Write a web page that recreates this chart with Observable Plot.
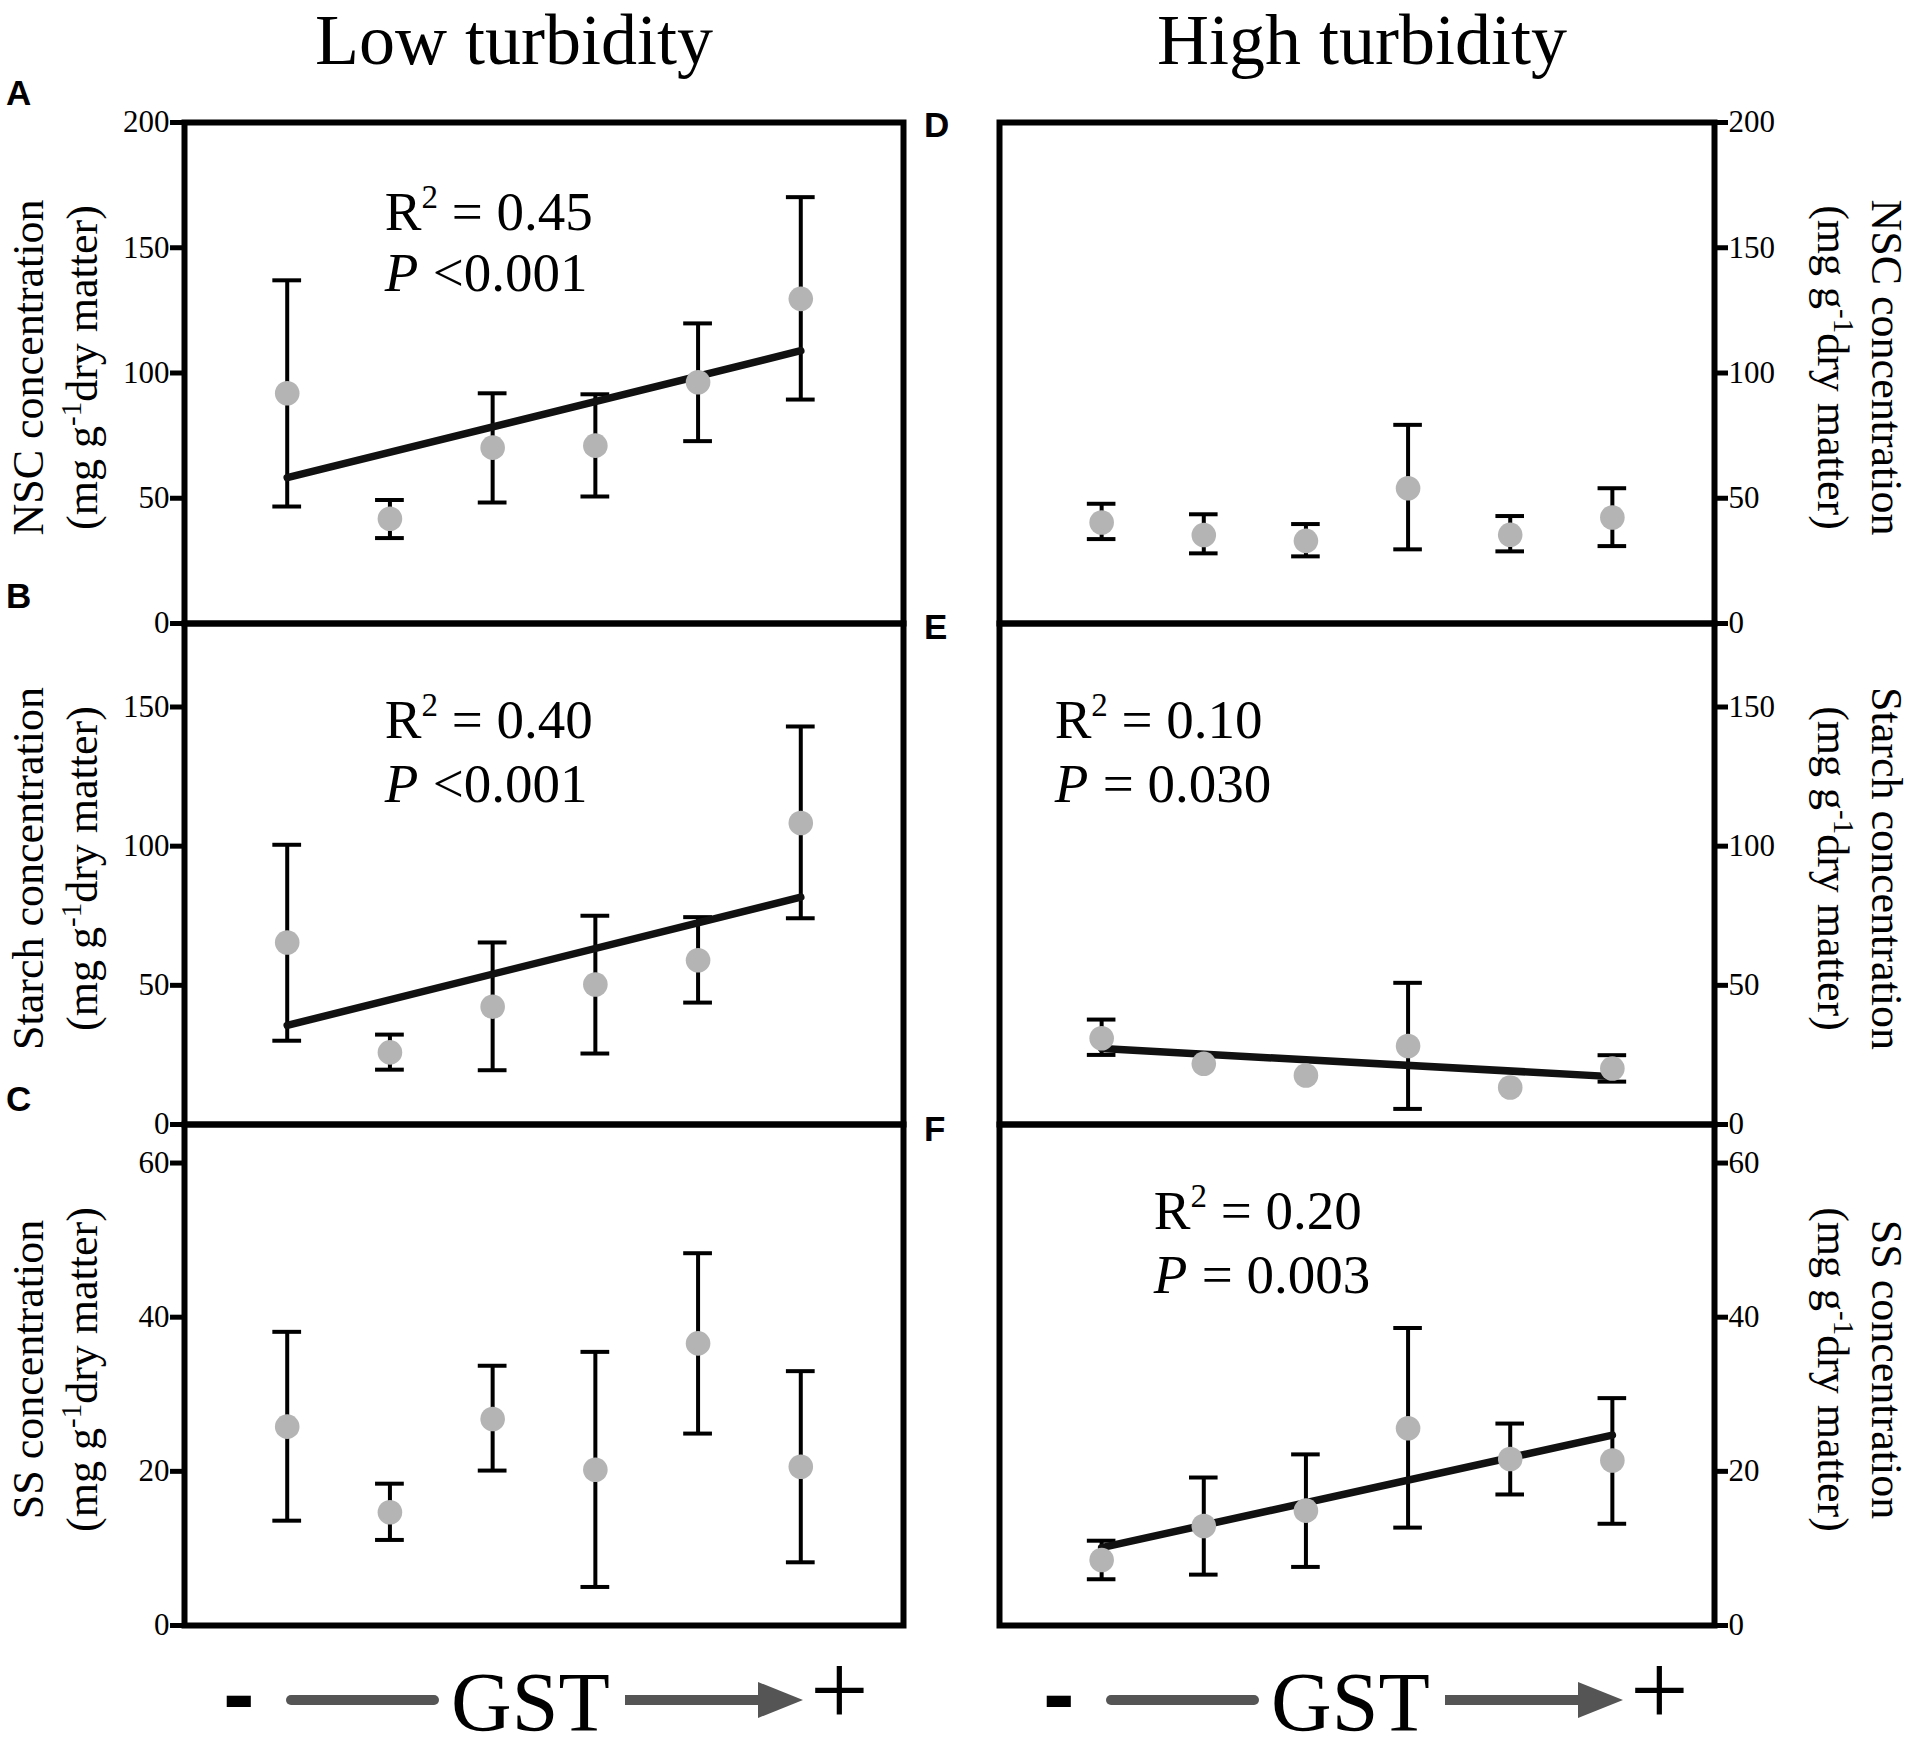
<!DOCTYPE html>
<html>
<head>
<meta charset="utf-8">
<script src="https://cdn.jsdelivr.net/npm/d3@7"></script>
<script src="https://cdn.jsdelivr.net/npm/@observablehq/plot@0.6"></script>
<style>
  body { margin: 0; background: #fff; }
  #fig { position: relative; width: 1926px; height: 1750px; background: #fff; overflow: hidden; }
  #fig > svg { position: absolute; }
</style>
</head>
<body>
<div id="fig"></div>
<script>
// ---------------- data ----------------
const gstLevels = [1, 2, 3, 4, 5, 6];

// Low turbidity
const nscLowMean   = [91.9, 41.8, 70.2, 71.0, 96.3, 129.6];
const nscLowUpper  = [137.0, 49.3, 91.9, 91.5, 119.8, 170.2];
const nscLowLower  = [46.7, 34.1, 48.3, 50.7, 72.8, 89.4];
const nscLowFit    = [58.2, 108.9];

const starchLowMean  = [65.4, 25.9, 42.3, 50.3, 59.0, 108.3];
const starchLowUpper = [100.5, 32.3, 65.4, 75.0, 74.5, 143.0];
const starchLowLower = [30.1, 19.7, 19.5, 25.5, 43.8, 74.1];
const starchLowFit   = [35.6, 81.7];

const ssLowMean  = [25.8, 14.7, 26.8, 20.2, 36.6, 20.6];
const ssLowUpper = [38.1, 18.4, 33.7, 35.5, 48.3, 33.0];
const ssLowLower = [13.6, 11.1, 20.1, 5.0, 24.9, 8.2];

// High turbidity
const nscHighMean  = [40.3, 35.3, 33.0, 54.0, 35.4, 42.3];
const nscHighUpper = [47.8, 43.6, 39.7, 79.3, 42.9, 54.0];
const nscHighLower = [33.7, 28.0, 26.8, 29.6, 28.8, 30.9];

const starchHighMean  = [31.0, 21.8, 17.6, 28.2, 13.3, 20.1];
const starchHighUpper = [37.7, null, null, 50.9, null, 24.9];
const starchHighLower = [25.0, null, null, 5.6, null, 15.4];
const starchHighFit   = [27.3, 17.2];

const ssHighMean  = [8.5, 12.9, 14.9, 25.6, 21.6, 21.4];
const ssHighUpper = [11.0, 19.2, 22.2, 38.6, 26.2, 29.5];
const ssHighLower = [6.0, 6.6, 7.6, 12.7, 17.0, 13.2];
const ssHighFit   = [10.1, 24.7];

// axes
const nscTicks = [0, 50, 100, 150, 200];
const starchTicks = [0, 50, 100, 150];
const ssTicks = [0, 20, 40, 60];
const nscDomain = [0, 200];
const starchDomain = [0, 180];
const ssDomain = [0, 65];

// labels
const columnTitles = ["Low turbidity", "High turbidity"];
const panelLetters = [["A", "B", "C"], ["D", "E", "F"]];
const yTitles = ["NSC concentration", "Starch concentration", "SS concentration"];
const r2Labels = { A: "0.45", B: "0.40", E: "0.10", F: "0.20" };
const pLabels  = { A: "<0.001", B: "<0.001", E: "= 0.030", F: "= 0.003" };

// ---------------- layout ----------------
const W = 1926, H = 1750;
const rowTops = [122, 623, 1124];
const panelH = 501;
const pad = 20;
const serif = "'Liberation Serif', 'Times New Roman', Times, serif";
const sans = "'Liberation Sans', Arial, Helvetica, sans-serif";

const fig = document.getElementById("fig");

function makePanel(o) {
  const data = gstLevels.map((g, i) => ({ g, mean: o.mean[i], hi: o.upper[i], lo: o.lower[i] }));
  const bars = data.filter(d => d.hi != null && d.lo != null);
  const left = o.side === "left";
  const marks = [
    Plot.ruleX(bars, { x: "g", y1: "lo", y2: "hi", stroke: "#000", strokeWidth: 4 }),
    Plot.ruleY(bars, { y: "hi", x1: d => d.g - 0.14, x2: d => d.g + 0.14, stroke: "#000", strokeWidth: 4 }),
    Plot.ruleY(bars, { y: "lo", x1: d => d.g - 0.14, x2: d => d.g + 0.14, stroke: "#000", strokeWidth: 4 })
  ];
  if (o.fit) {
    const fitData = [{ g: gstLevels[0], v: o.fit[0] }, { g: gstLevels[gstLevels.length - 1], v: o.fit[1] }];
    marks.push(Plot.line(fitData, { x: "g", y: "v", stroke: "#111", strokeWidth: 7.5, strokeLinecap: "round" }));
  }
  marks.push(Plot.dot(data, { x: "g", y: "mean", r: 12.3, fill: "#b4b4b4", stroke: "none" }));
  if (o.note) {
    const n = o.note;
    marks.push(
      Plot.text([{ x: n.x, y: n.yR, t: "R² = " + n.r2 }], { x: "x", y: "y", text: "t", textAnchor: "start", lineAnchor: "bottom", fontSize: 55, fontFamily: serif, fill: "#000" }),
      Plot.text([{ x: n.x, y: n.yP, t: "P" }], { x: "x", y: "y", text: "t", textAnchor: "start", lineAnchor: "bottom", fontSize: 55, fontFamily: serif, fontStyle: "italic", fill: "#000" }),
      Plot.text([{ x: n.x, y: n.yP, t: n.p }], { x: "x", y: "y", text: "t", textAnchor: "start", lineAnchor: "bottom", fontSize: 55, fontFamily: serif, dx: 48, fill: "#000" })
    );
  }
  marks.push(Plot.frame({ stroke: "#000", strokeWidth: 6 }));
  marks.push(Plot.axisY({
    anchor: left ? "left" : "right", ticks: o.ticks, tickSize: left ? 14 : 13, tickPadding: 1,
    strokeWidth: 5, fontSize: 31, fontFamily: serif, fill: "#000", label: null, tickFormat: d => String(d)
  }));
  const svg = Plot.plot({
    width: 963, height: panelH + 2 * pad,
    marginTop: pad, marginBottom: pad,
    marginLeft: left ? 184 : 36, marginRight: left ? 60 : 212,
    style: { fontFamily: serif, background: "transparent", overflow: "visible", color: "#000" },
    x: { domain: [0, 7], axis: null },
    y: { domain: o.domain, label: null, axis: null },
    marks
  });
  // make sure every text of the panel uses the Times-like serif
  d3.select(svg).selectAll("text").style("font-family", serif).style("font-variant", "normal");
  // real superscript "2" in the R² annotations
  d3.select(svg).selectAll("text")
    .filter(function () { return this.textContent.startsWith("R² = "); })
    .each(function () {
      const rest = this.textContent.slice(2);
      const t = d3.select(this);
      t.text(null);
      t.append("tspan").text("R");
      t.append("tspan").attr("font-size", 33).attr("dy", -22).text("2");
      t.append("tspan").attr("dy", 22).text(rest);
    });
  svg.style.left = (left ? 0 : 963) + "px";
  svg.style.top = (rowTops[o.row] - pad) + "px";
  svg.style.maxWidth = "none";
  fig.appendChild(svg);
}

makePanel({ side: "left", row: 0, mean: nscLowMean, upper: nscLowUpper, lower: nscLowLower, fit: nscLowFit,
  domain: nscDomain, ticks: nscTicks, note: { x: 1.95, yR: 156.9, yP: 132.9, r2: r2Labels.A, p: pLabels.A } });
makePanel({ side: "left", row: 1, mean: starchLowMean, upper: starchLowUpper, lower: starchLowLower, fit: starchLowFit,
  domain: starchDomain, ticks: starchTicks, note: { x: 1.95, yR: 138.9, yP: 115.8, r2: r2Labels.B, p: pLabels.B } });
makePanel({ side: "left", row: 2, mean: ssLowMean, upper: ssLowUpper, lower: ssLowLower, fit: null,
  domain: ssDomain, ticks: ssTicks, note: null });
makePanel({ side: "right", row: 0, mean: nscHighMean, upper: nscHighUpper, lower: nscHighLower, fit: null,
  domain: nscDomain, ticks: nscTicks, note: null });
makePanel({ side: "right", row: 1, mean: starchHighMean, upper: starchHighUpper, lower: starchHighLower, fit: starchHighFit,
  domain: starchDomain, ticks: starchTicks, note: { x: 0.54, yR: 138.9, yP: 115.8, r2: r2Labels.E, p: pLabels.E } });
makePanel({ side: "right", row: 2, mean: ssHighMean, upper: ssHighUpper, lower: ssHighLower, fit: ssHighFit,
  domain: ssDomain, ticks: ssTicks, note: { x: 1.51, yR: 51.5, yP: 43.2, r2: r2Labels.F, p: pLabels.F } });

// ---------------- overlay text ----------------
const ov = d3.create("svg").attr("width", W).attr("height", H)
  .style("left", "0px").style("top", "0px").style("pointer-events", "none");

// column titles
[514, 1362].forEach((cx, i) => {
  ov.append("text").attr("x", cx).attr("y", 64).attr("text-anchor", "middle")
    .attr("font-family", serif).attr("font-size", 72).attr("fill", "#000").text(columnTitles[i]);
});

// panel letters
const letterBase = [[105, 608, 1111], [137, 639, 1141]];
[6, 924].forEach((lx, c) => {
  panelLetters[c].forEach((L, r) => {
    ov.append("text").attr("x", lx).attr("y", letterBase[c][r])
      .attr("font-family", sans).attr("font-weight", "bold").attr("font-size", 35).attr("fill", "#000").text(L);
  });
});

// y-axis titles
function yTitle(x1, x2, rot, cy, title) {
  ov.append("text").attr("transform", `translate(${x1},${cy}) rotate(${rot})`).attr("text-anchor", "middle")
    .attr("font-family", serif).attr("font-size", 44).attr("fill", "#000").text(title);
  const t = ov.append("text").attr("transform", `translate(${x2},${cy}) rotate(${rot})`).attr("text-anchor", "middle")
    .attr("font-family", serif).attr("font-size", 44).attr("fill", "#000");
  t.append("tspan").text("(mg g");
  t.append("tspan").attr("font-size", 29).attr("dy", -16).text("-1");
  t.append("tspan").attr("dy", 16).text("dry matter)");
}
rowTops.forEach((top, r) => {
  const cy = top + panelH / 2 - 5;
  yTitle(43, 97, -90, cy, yTitles[r]);
  yTitle(1872, 1818, 90, cy, yTitles[r]);
});

// GST arrows
function gst(off) {
  const g = ov.append("g").attr("transform", `translate(${off},-10)`);
  g.append("text").attr("x", 223).attr("y", 1736).attr("font-family", sans).attr("font-weight", "bold")
    .attr("font-size", 95).attr("fill", "#000").text("-");
  g.append("line").attr("x1", 291).attr("x2", 434).attr("y1", 1710).attr("y2", 1710)
    .attr("stroke", "#555").attr("stroke-width", 10).attr("stroke-linecap", "round");
  g.append("text").attr("x", 451).attr("y", 1741).attr("font-family", serif)
    .attr("font-size", 84).attr("fill", "#000").text("GST");
  g.append("line").attr("x1", 625).attr("x2", 760).attr("y1", 1710).attr("y2", 1710)
    .attr("stroke", "#555").attr("stroke-width", 10);
  g.append("path").attr("d", "M758,1692 L803,1710 L758,1728 Z").attr("fill", "#555");
  g.append("text").attr("x", 810).attr("y", 1735).attr("font-family", serif)
    .attr("font-size", 104).attr("fill", "#000").text("+");
}
gst(0);
gst(820);

fig.appendChild(ov.node());
</script>
</body>
</html>
